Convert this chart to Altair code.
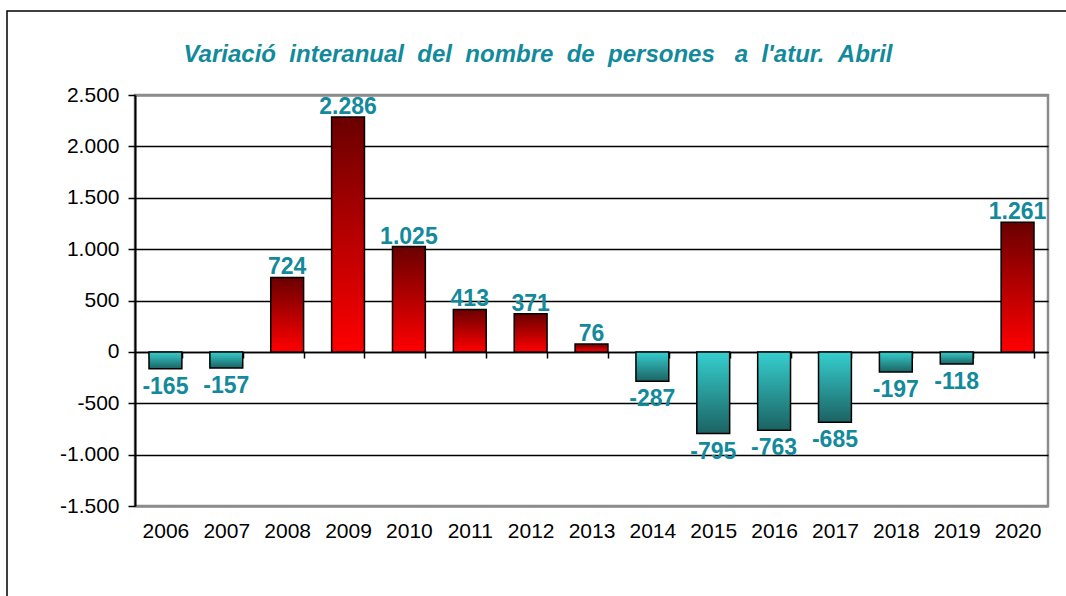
import altair as alt
import pandas as pd

years = ["2006", "2007", "2008", "2009", "2010", "2011", "2012", "2013",
         "2014", "2015", "2016", "2017", "2018", "2019", "2020"]
values = [-165, -157, 724, 2286, 1025, 413, 371, 76,
          -287, -795, -763, -685, -197, -118, 1261]
y_ticks = [-1500, -1000, -500, 0, 500, 1000, 1500, 2000, 2500]

title_text = "Variació  interanual  del  nombre  de  persones   a  l'atur.  Abril"
TEAL = "#138a9c"
FONT = "Liberation Sans"

df = pd.DataFrame({"year": years, "value": values})
df["label"] = [f"{v:,}".replace(",", ".") for v in values]

num_expr = "(datum.value < 0 ? '-' : '') + replace(format(abs(datum.value), ','), ',', '.')"

x_enc = alt.X("year:N", sort=years,
              scale=alt.Scale(paddingInner=0.46, paddingOuter=0.23),
              axis=alt.Axis(title=None, orient="bottom", offset=-154,
                            domainColor="black", domainWidth=1.5,
                            tickColor="black", tickWidth=1.5, tickSize=6,
                            tickBand="extent", labelPadding=162,
                            labelFont=FONT, labelFontSize=21,
                            labelColor="black", labelAngle=0, grid=False))
y_enc = alt.Y("value:Q",
              scale=alt.Scale(domain=[-1500, 2500], nice=False, zero=False),
              axis=alt.Axis(title=None, values=y_ticks, labelExpr=num_expr,
                            domainColor="black", domainWidth=2,
                            tickColor="black", tickWidth=1.5, tickSize=7,
                            labelPadding=9, labelFont=FONT, labelFontSize=21,
                            labelColor="black",
                            grid=True,
                            gridColor={"condition": {"test": "datum.value === 2500 || datum.value === -1500",
                                                     "value": "#8c8c8c"},
                                       "value": "black"},
                            gridWidth={"condition": {"test": "datum.value === 2500 || datum.value === -1500",
                                                     "value": 2.5},
                                       "value": 1.3}))

base = alt.Chart(df)

pos_grad = alt.Gradient(gradient="linear",
                        stops=[alt.GradientStop(color="#6a0000", offset=0),
                               alt.GradientStop(color="#ff0000", offset=1)],
                        x1=0, x2=0, y1=0, y2=1)
neg_grad = alt.Gradient(gradient="linear",
                        stops=[alt.GradientStop(color="#36cfcf", offset=0),
                               alt.GradientStop(color="#1c6262", offset=1)],
                        x1=0, x2=0, y1=0, y2=1)

pos_bars = base.transform_filter("datum.value >= 0").mark_bar(
    color=pos_grad, stroke="black", strokeWidth=1.5
).encode(x=x_enc, y=y_enc, y2=alt.datum(0))

neg_bars = base.transform_filter("datum.value < 0").mark_bar(
    color=neg_grad, stroke="black", strokeWidth=1.5
).encode(x=x_enc, y=y_enc, y2=alt.datum(0))

pos_text = base.transform_filter("datum.value >= 0").mark_text(
    font=FONT, fontSize=23, fontWeight="bold", color=TEAL,
    baseline="alphabetic", dy=-3
).encode(x=alt.X("year:N", sort=years), y="value:Q", text="label:N")

neg_text = base.transform_filter("datum.value < 0").mark_text(
    font=FONT, fontSize=23, fontWeight="bold", color=TEAL,
    baseline="top", dy=7
).encode(x=alt.X("year:N", sort=years), y="value:Q", text="label:N")

border = alt.Chart(pd.DataFrame({"k": [0]})).mark_rect(
    fill=None, stroke="black", strokeWidth=1.5
).encode(x=alt.value(-128), x2=alt.value(1000), y=alt.value(-84), y2=alt.value(700))

title_shown = title_text.replace("  ", " \u00a0")
title_mark = alt.Chart(pd.DataFrame({"t": [title_shown]})).mark_text(
    font=FONT, fontSize=24, fontWeight="bold", fontStyle="italic", color=TEAL,
    align="center", baseline="middle"
).encode(x=alt.value(403), y=alt.value(-40), text="t:N")

chart = alt.layer(pos_bars, neg_bars, pos_text, neg_text, border, title_mark).properties(
    width=913, height=411,
    autosize=alt.AutoSizeParams(type="none"),
    padding={"left": 135, "top": 95, "right": 18, "bottom": 90},
).configure_view(stroke="#8c8c8c", strokeWidth=2.5)

chart.save("out.html", embed_options={"renderer": "svg", "actions": False})
